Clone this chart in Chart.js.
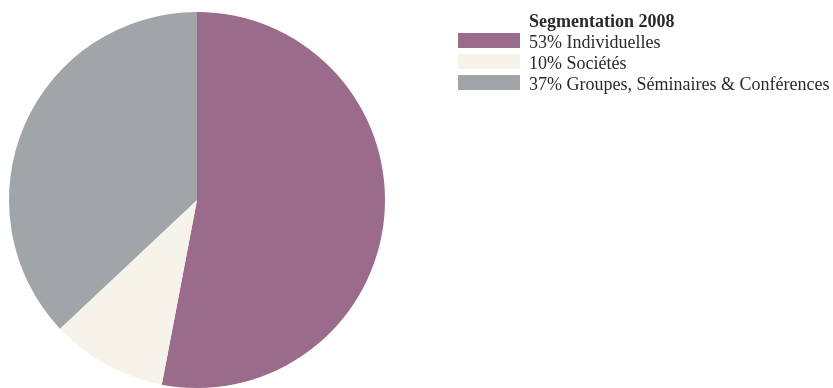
<!DOCTYPE html>
<html>
<head>
<meta charset="utf-8">
<script src="https://cdn.jsdelivr.net/npm/chart.js@4/dist/chart.umd.min.js"></script>
<style>
  html, body { margin: 0; padding: 0; background: #fff; }
  #wrap { width: 833px; height: 388px; position: relative; }
</style>
</head>
<body>
<div id="wrap"><canvas id="pieCanvas"></canvas></div>
<script>
// Données du graphique
const legendTitle = 'Segmentation 2008';
const categories = ['53% Individuelles', '10% Sociétés', '37% Groupes, Séminaires & Conférences'];
const values = [53, 10, 37];
const colors = ['#9b6b8b', '#f6f4ea', '#a0a5a7'];

// Légende dessinée à la main, à droite du camembert
const sideLegend = {
    id: 'sideLegend',
    afterDraw(chart) {
        const ctx = chart.ctx;
        const x0 = 458, boxW = 62, boxH = 15, textX = 529;
        ctx.save();
        ctx.fillStyle = '#2a2a2a';
        ctx.textBaseline = 'alphabetic';
        ctx.font = 'bold 18px "Liberation Serif", serif';
        ctx.fillText(legendTitle, textX, 27);
        ctx.font = '18px "Liberation Serif", serif';
        chart.data.labels.forEach((label, i) => {
            const top = 33 + i * 21;
            ctx.fillStyle = chart.data.datasets[0].backgroundColor[i];
            ctx.fillRect(x0, top, boxW, boxH);
            ctx.fillStyle = '#2a2a2a';
            ctx.fillText(label, textX, top + 15);
        });
        ctx.restore();
    }
};

const ctx = document.getElementById('pieCanvas').getContext('2d');
new Chart(ctx, {
    type: 'pie',
    data: {
        labels: categories,
        datasets: [{
            data: values,
            backgroundColor: colors,
            borderWidth: 0
        }]
    },
    options: {
        responsive: true,
        maintainAspectRatio: false,
        animation: false,
        layout: { padding: { left: 8, right: 447, top: 12, bottom: 0 } },
        plugins: {
            legend: { display: false },
            tooltip: { enabled: false }
        }
    },
    plugins: [sideLegend]
});
</script>
</body>
</html>
